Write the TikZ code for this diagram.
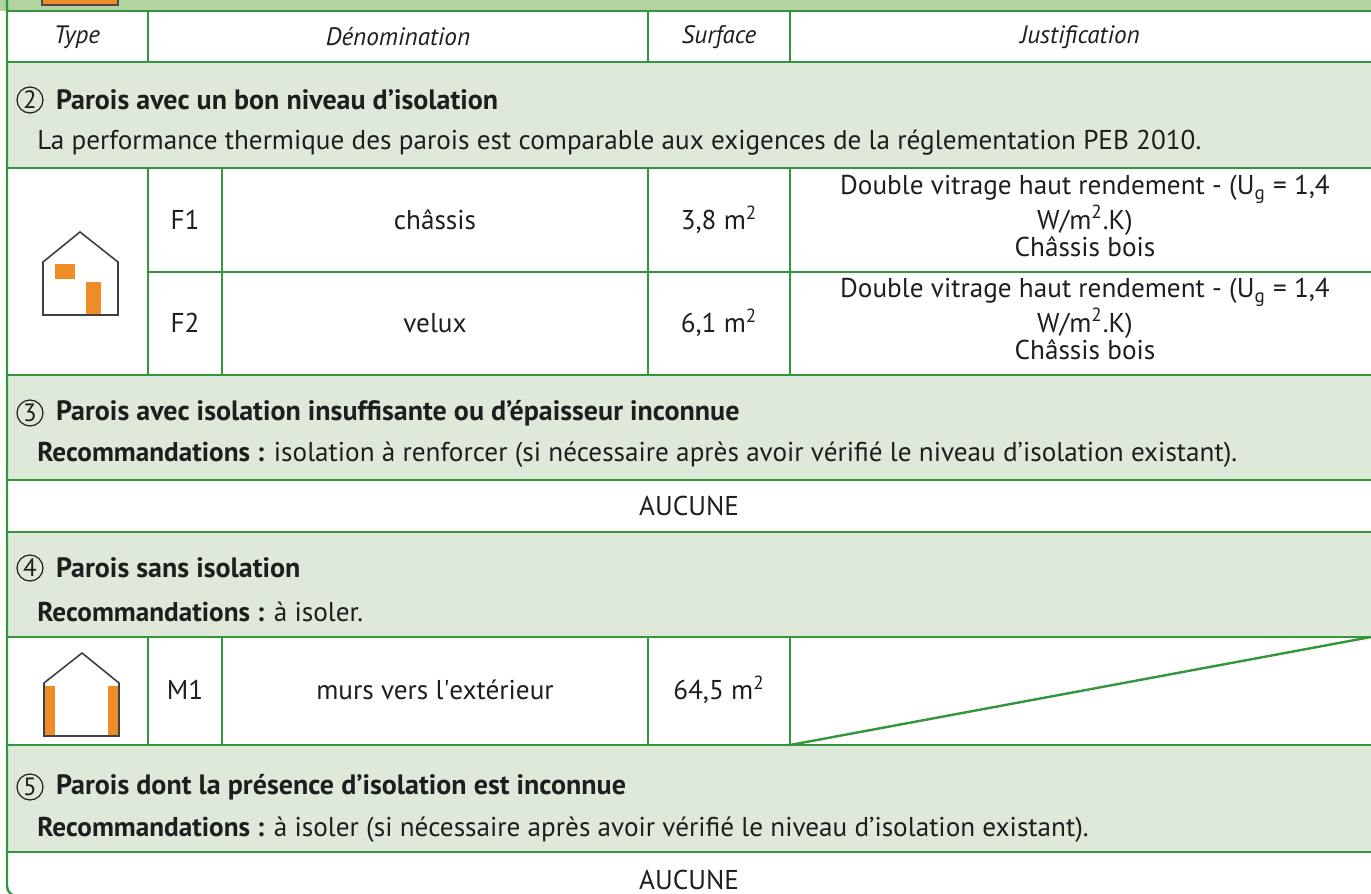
\documentclass[tikz,border=0pt]{standalone}
\usepackage{fontspec}
\setmainfont{PT Sans}
\usetikzlibrary{positioning}

\definecolor{lgreen}{RGB}{52,150,60}
\definecolor{bgreen}{RGB}{222,233,217}
\definecolor{tgreen}{RGB}{178,210,160}
\definecolor{org}{RGB}{240,140,40}
\definecolor{ink}{RGB}{30,30,30}

\begin{document}
\begin{tikzpicture}[x=0.5pt,y=-0.5pt,font=\fontsize{13.6}{13.5}\selectfont,text=ink]

\tikzset{grid/.style={draw=lgreen,line width=1.2pt}}
\tikzset{house/.style={draw=ink!85,line width=0.8pt,line join=miter}}
\tikzset{hdr/.style={font=\fontsize{12.6}{13}\selectfont\itshape}}
\tikzset{num/.style={circle,draw=ink,line width=0.6pt,inner sep=0pt,minimum size=13pt,font=\fontsize{12.5}{13}\selectfont}}
\tikzset{ttl/.style={anchor=west,inner sep=0pt,font=\fontsize{14}{14}\selectfont\bfseries}}
\tikzset{txt/.style={anchor=west,inner sep=0pt}}
\tikzset{cell/.style={align=center,inner sep=0pt}}

\useasboundingbox (0,0) rectangle (1371,894);

%bands
\fill[tgreen] (0,0) rectangle (1371,11);
\foreach \ya/\yb in {62/168,375/480,532/637,745/852}
  \fill[bgreen] (7,\ya) rectangle (1371,\yb);
\filldraw[fill=org,draw=ink!80,line width=0.6pt] (42,-5) rectangle (118,5);

%grid
\foreach \yy in {11,62,168,375,480,532,637,745,852}
  \draw[grid] (7,\yy) -- (1371,\yy);
\draw[grid] (148,272) -- (1371,272);
\foreach \xx in {148,648,790}
  \draw[grid] (\xx,11) -- (\xx,62);
\foreach \xx in {148,222,648,790}{
  \draw[grid] (\xx,168) -- (\xx,375);
  \draw[grid] (\xx,637) -- (\xx,745);
}
\draw[grid] (790,745) -- (1371,637);
\draw[grid,rounded corners=5pt] (7,0) -- (7,896) -- (60,896);

%header
\node[hdr] (hType) at (77,37) {Type};
\node[hdr] (hDen) at (398,37) {Dénomination};
\node[hdr] (hSurf) at (719,37) {Surface};
\node[hdr] (hJust) at (1080,37) {Justification};

%section 2
\node[num] (n2) at (30,100) {2};
\node[ttl,right=6pt of n2] (t2) {Parois avec un bon niveau d'isolation};
\node[txt] (r2) at (37,143) {La performance thermique des parois est comparable aux exigences de la réglementation PEB 2010.};

%house F
\fill[org] (55,264) rectangle (75,279);
\fill[org] (86,282) rectangle (101,315);
\draw[house] (43,315) -- (43,262) -- (80,232) -- (118,262) -- (118,315) -- cycle;

%F1
\node[cell] (f1) at (185,220) {F1};
\node[cell] (f1d) at (435,220) {châssis};
\node[cell] (f1s) at (719,220) {3,8 m\textsuperscript{2}};
\node[cell] (f1j) at (1085,216) {Double vitrage haut rendement - (U\textsubscript{g} = 1,4\\W/m\textsuperscript{2}.K)\\Châssis bois};

%F2
\node[cell] (f2) at (185,323) {F2};
\node[cell] (f2d) at (435,323) {velux};
\node[cell] (f2s) at (719,323) {6,1 m\textsuperscript{2}};
\node[cell] (f2j) at (1085,319) {Double vitrage haut rendement - (U\textsubscript{g} = 1,4\\W/m\textsuperscript{2}.K)\\Châssis bois};

%section 3
\node[num] (n3) at (30,413) {3};
\node[ttl,right=6pt of n3] (t3) {Parois avec isolation insuffisante ou d'épaisseur inconnue};
\node[txt] (r3) at (37,455) {\textbf{Recommandations :} isolation à renforcer (si nécessaire après avoir vérifié le niveau d'isolation existant).};
\node[cell] (a3) at (689,506) {AUCUNE};

%section 4
\node[num] (n4) at (30,568) {4};
\node[ttl,right=6pt of n4] (t4) {Parois sans isolation};
\node[txt] (r4) at (37,612) {\textbf{Recommandations :} à isoler.};

%house M
\fill[org] (44,686) rectangle (55,736);
\fill[org] (108,686) rectangle (119,736);
\draw[house] (44,736) -- (44,683) -- (82,653) -- (119,683) -- (119,736) -- cycle;

%M1
\node[cell] (m1) at (185,690) {M1};
\node[cell] (m1d) at (435,690) {murs vers l\textquotesingle extérieur};
\node[cell] (m1s) at (719,690) {64,5 m\textsuperscript{2}};

%section 5
\node[num] (n5) at (30,787) {5};
\node[ttl,right=6pt of n5] (t5) {Parois dont la présence d'isolation est inconnue};
\node[txt] (r5) at (37,830) {\textbf{Recommandations :} à isoler (si nécessaire après avoir vérifié le niveau d'isolation existant).};
\node[cell] (a5) at (689,880) {AUCUNE};

\end{tikzpicture}
\end{document}
